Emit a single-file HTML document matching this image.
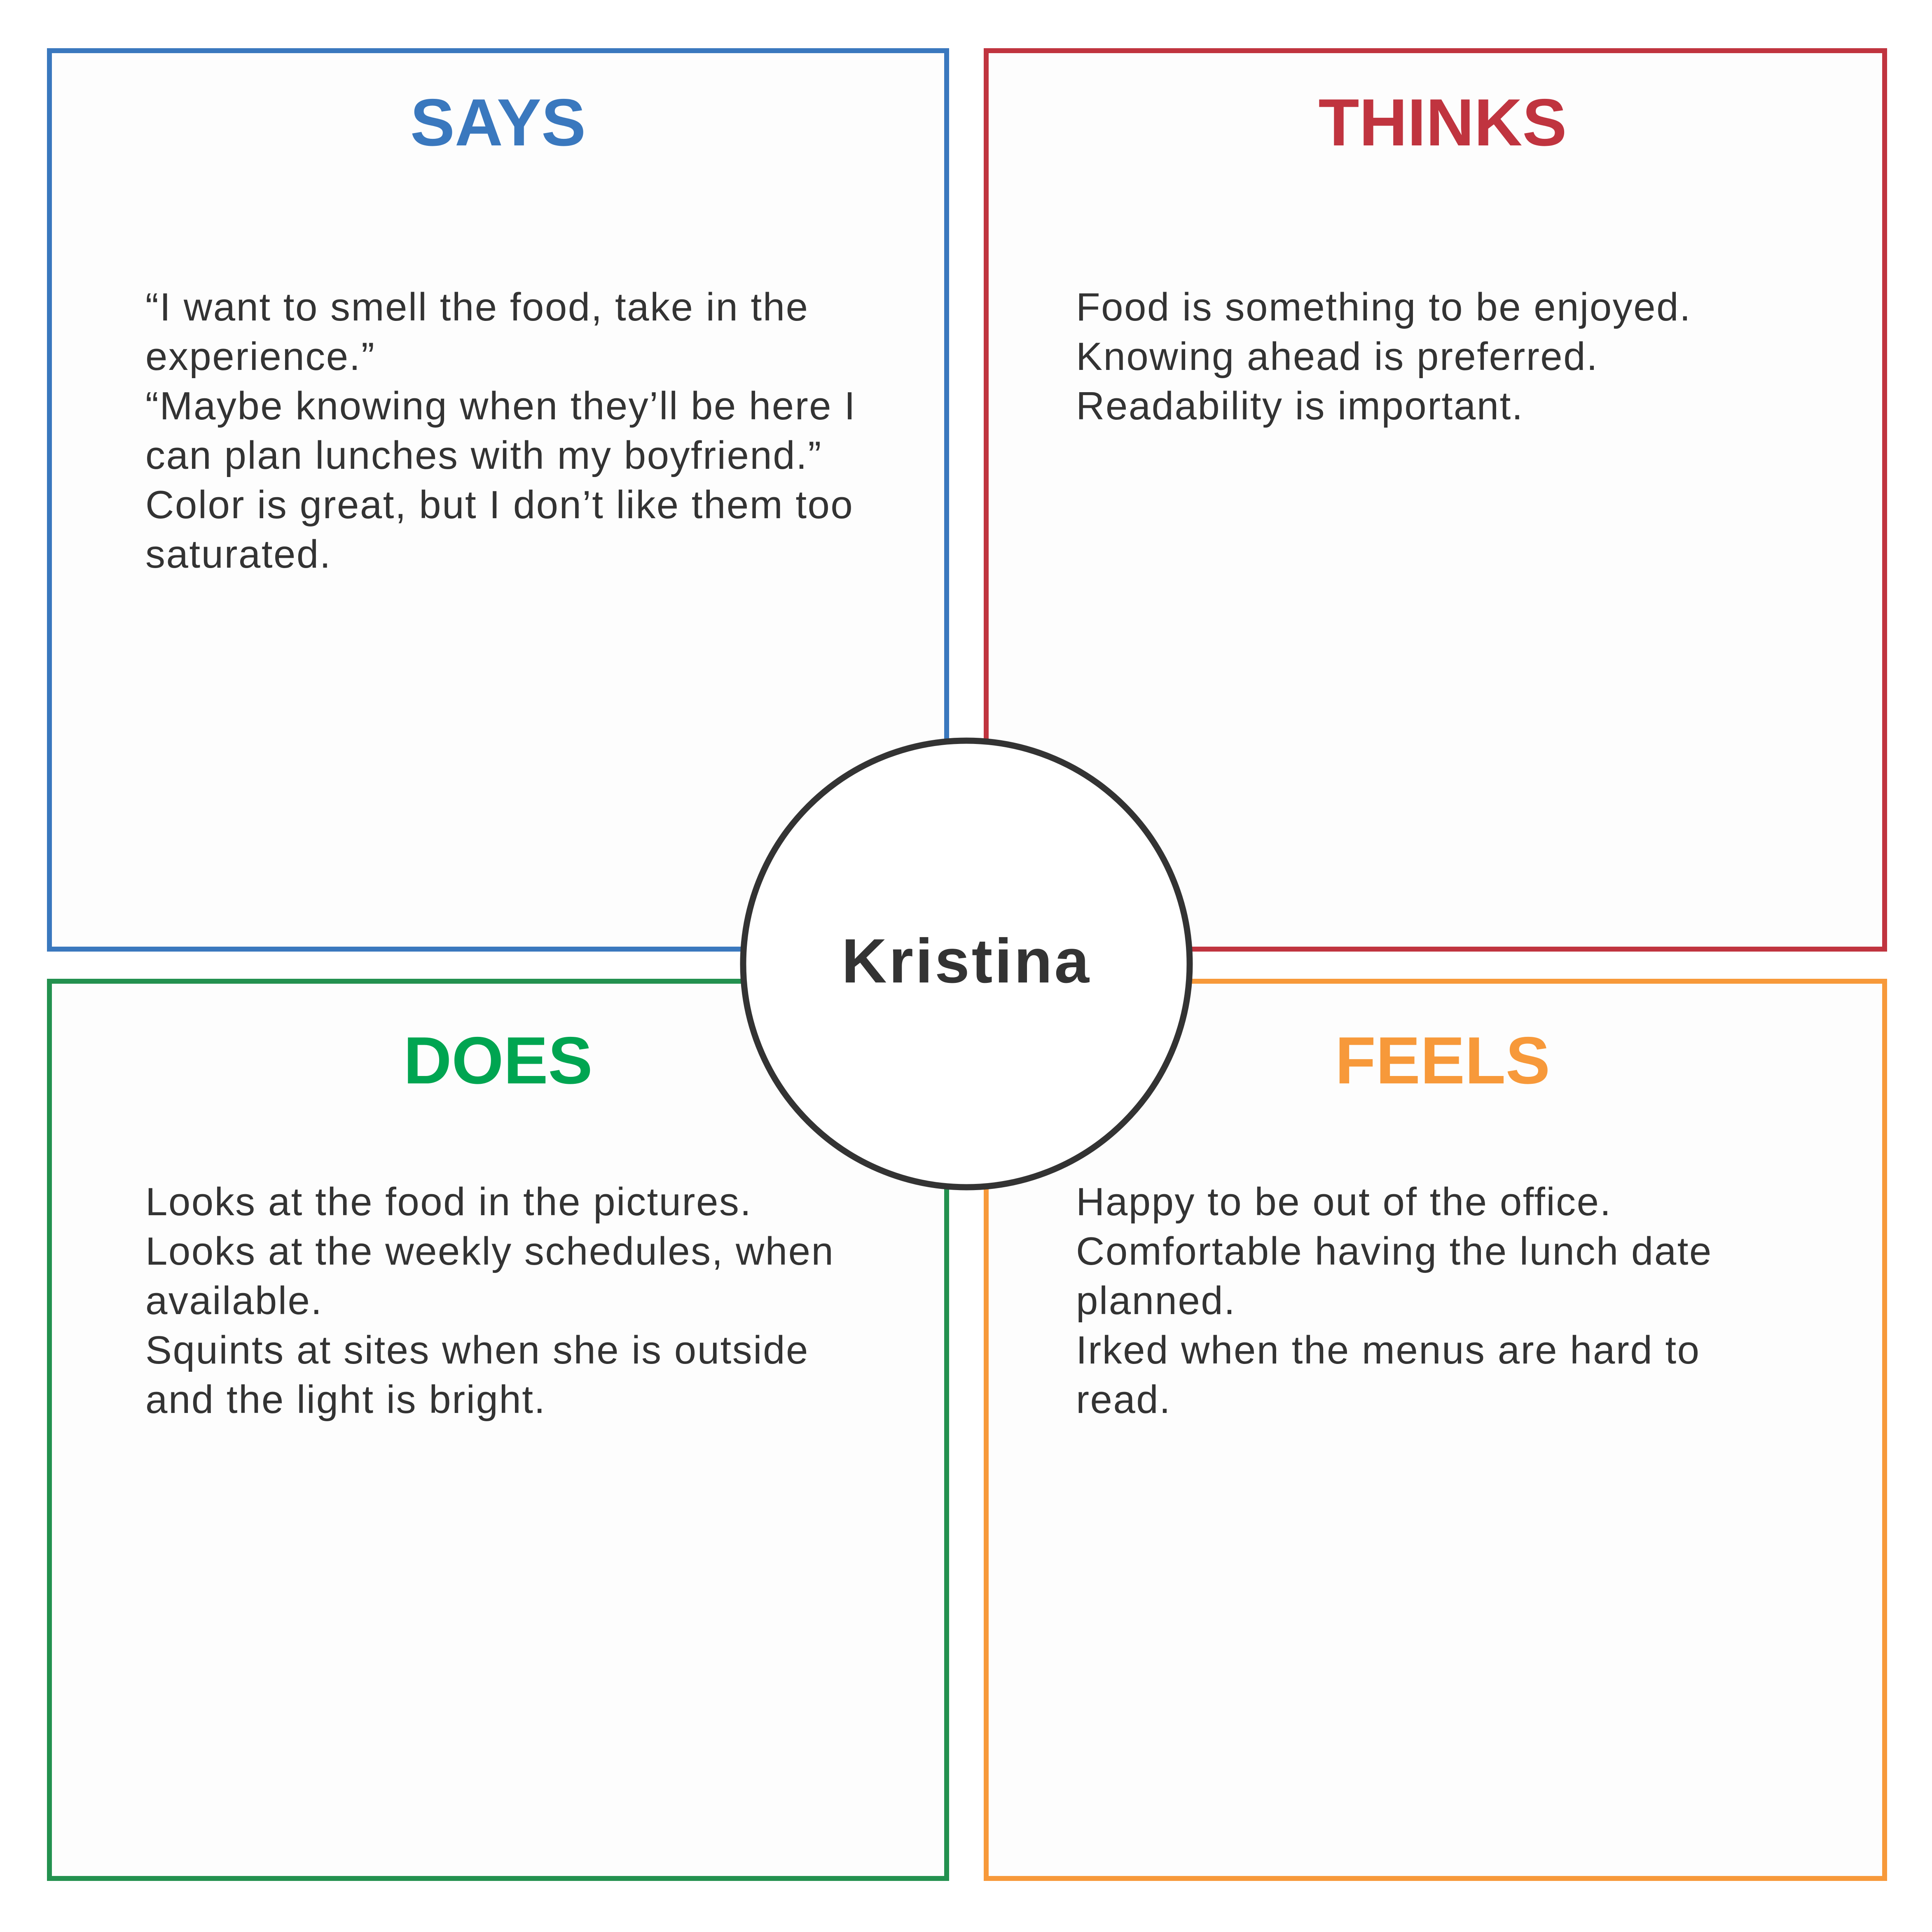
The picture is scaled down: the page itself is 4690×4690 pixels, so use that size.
<!DOCTYPE html>
<html><head><meta charset="utf-8"><style>
html,body{margin:0;padding:0;background:#fff;}
svg{display:block;}
text{font-family:"Liberation Sans",Arial,sans-serif;}
.b{font-size:96px;fill:#333;letter-spacing:2.5px;}
.t{font-size:162px;font-weight:bold;}
</style></head><body>
<svg width="4690" height="4690" viewBox="0 0 4690 4690" xmlns="http://www.w3.org/2000/svg">
<rect width="4690" height="4690" fill="#fff"/>
<rect x="120" y="123" width="2178" height="2181" fill="#fdfdfd" stroke="#3a78be" stroke-width="12"/>
<rect x="2394" y="123" width="2181" height="2181" fill="#fdfdfd" stroke="#c0343f" stroke-width="12"/>
<rect x="120" y="2382" width="2178" height="2178" fill="#fdfdfd" stroke="#23914f" stroke-width="12"/>
<rect x="2394" y="2382" width="2181" height="2178" fill="#fdfdfd" stroke="#f7993a" stroke-width="12"/>
<circle cx="2346" cy="2340" r="542" fill="#fff" stroke="#333" stroke-width="15"/>
<text class="t" x="1209" y="353" text-anchor="middle" fill="#3a78be">SAYS</text>
<text class="t" x="3502" y="353" text-anchor="middle" fill="#c0343f">THINKS</text>
<text class="t" x="1209" y="2630" text-anchor="middle" fill="#00a551">DOES</text>
<text class="t" x="3502" y="2630" text-anchor="middle" fill="#f7993a">FEELS</text>
<text x="2346" y="2385" text-anchor="middle" font-size="152" font-weight="bold" fill="#333" letter-spacing="5">Kristina</text>
<text class="b">
<tspan x="353" y="778">“I want to smell the food, take in the</tspan>
<tspan x="353" y="898">experience.”</tspan>
<tspan x="353" y="1018">“Maybe knowing when they’ll be here I</tspan>
<tspan x="353" y="1138">can plan lunches with my boyfriend.”</tspan>
<tspan x="353" y="1258">Color is great, but I don’t like them too</tspan>
<tspan x="353" y="1378">saturated.</tspan>
</text>
<text class="b">
<tspan x="2612" y="778">Food is something to be enjoyed.</tspan>
<tspan x="2612" y="898">Knowing ahead is preferred.</tspan>
<tspan x="2612" y="1018">Readability is important.</tspan>
</text>
<text class="b">
<tspan x="353" y="2950">Looks at the food in the pictures.</tspan>
<tspan x="353" y="3070">Looks at the weekly schedules, when</tspan>
<tspan x="353" y="3190">available.</tspan>
<tspan x="353" y="3310">Squints at sites when she is outside</tspan>
<tspan x="353" y="3430">and the light is bright.</tspan>
</text>
<text class="b">
<tspan x="2612" y="2950">Happy to be out of the office.</tspan>
<tspan x="2612" y="3070">Comfortable having the lunch date</tspan>
<tspan x="2612" y="3190">planned.</tspan>
<tspan x="2612" y="3310">Irked when the menus are hard to</tspan>
<tspan x="2612" y="3430">read.</tspan>
</text>
</svg>
</body></html>
